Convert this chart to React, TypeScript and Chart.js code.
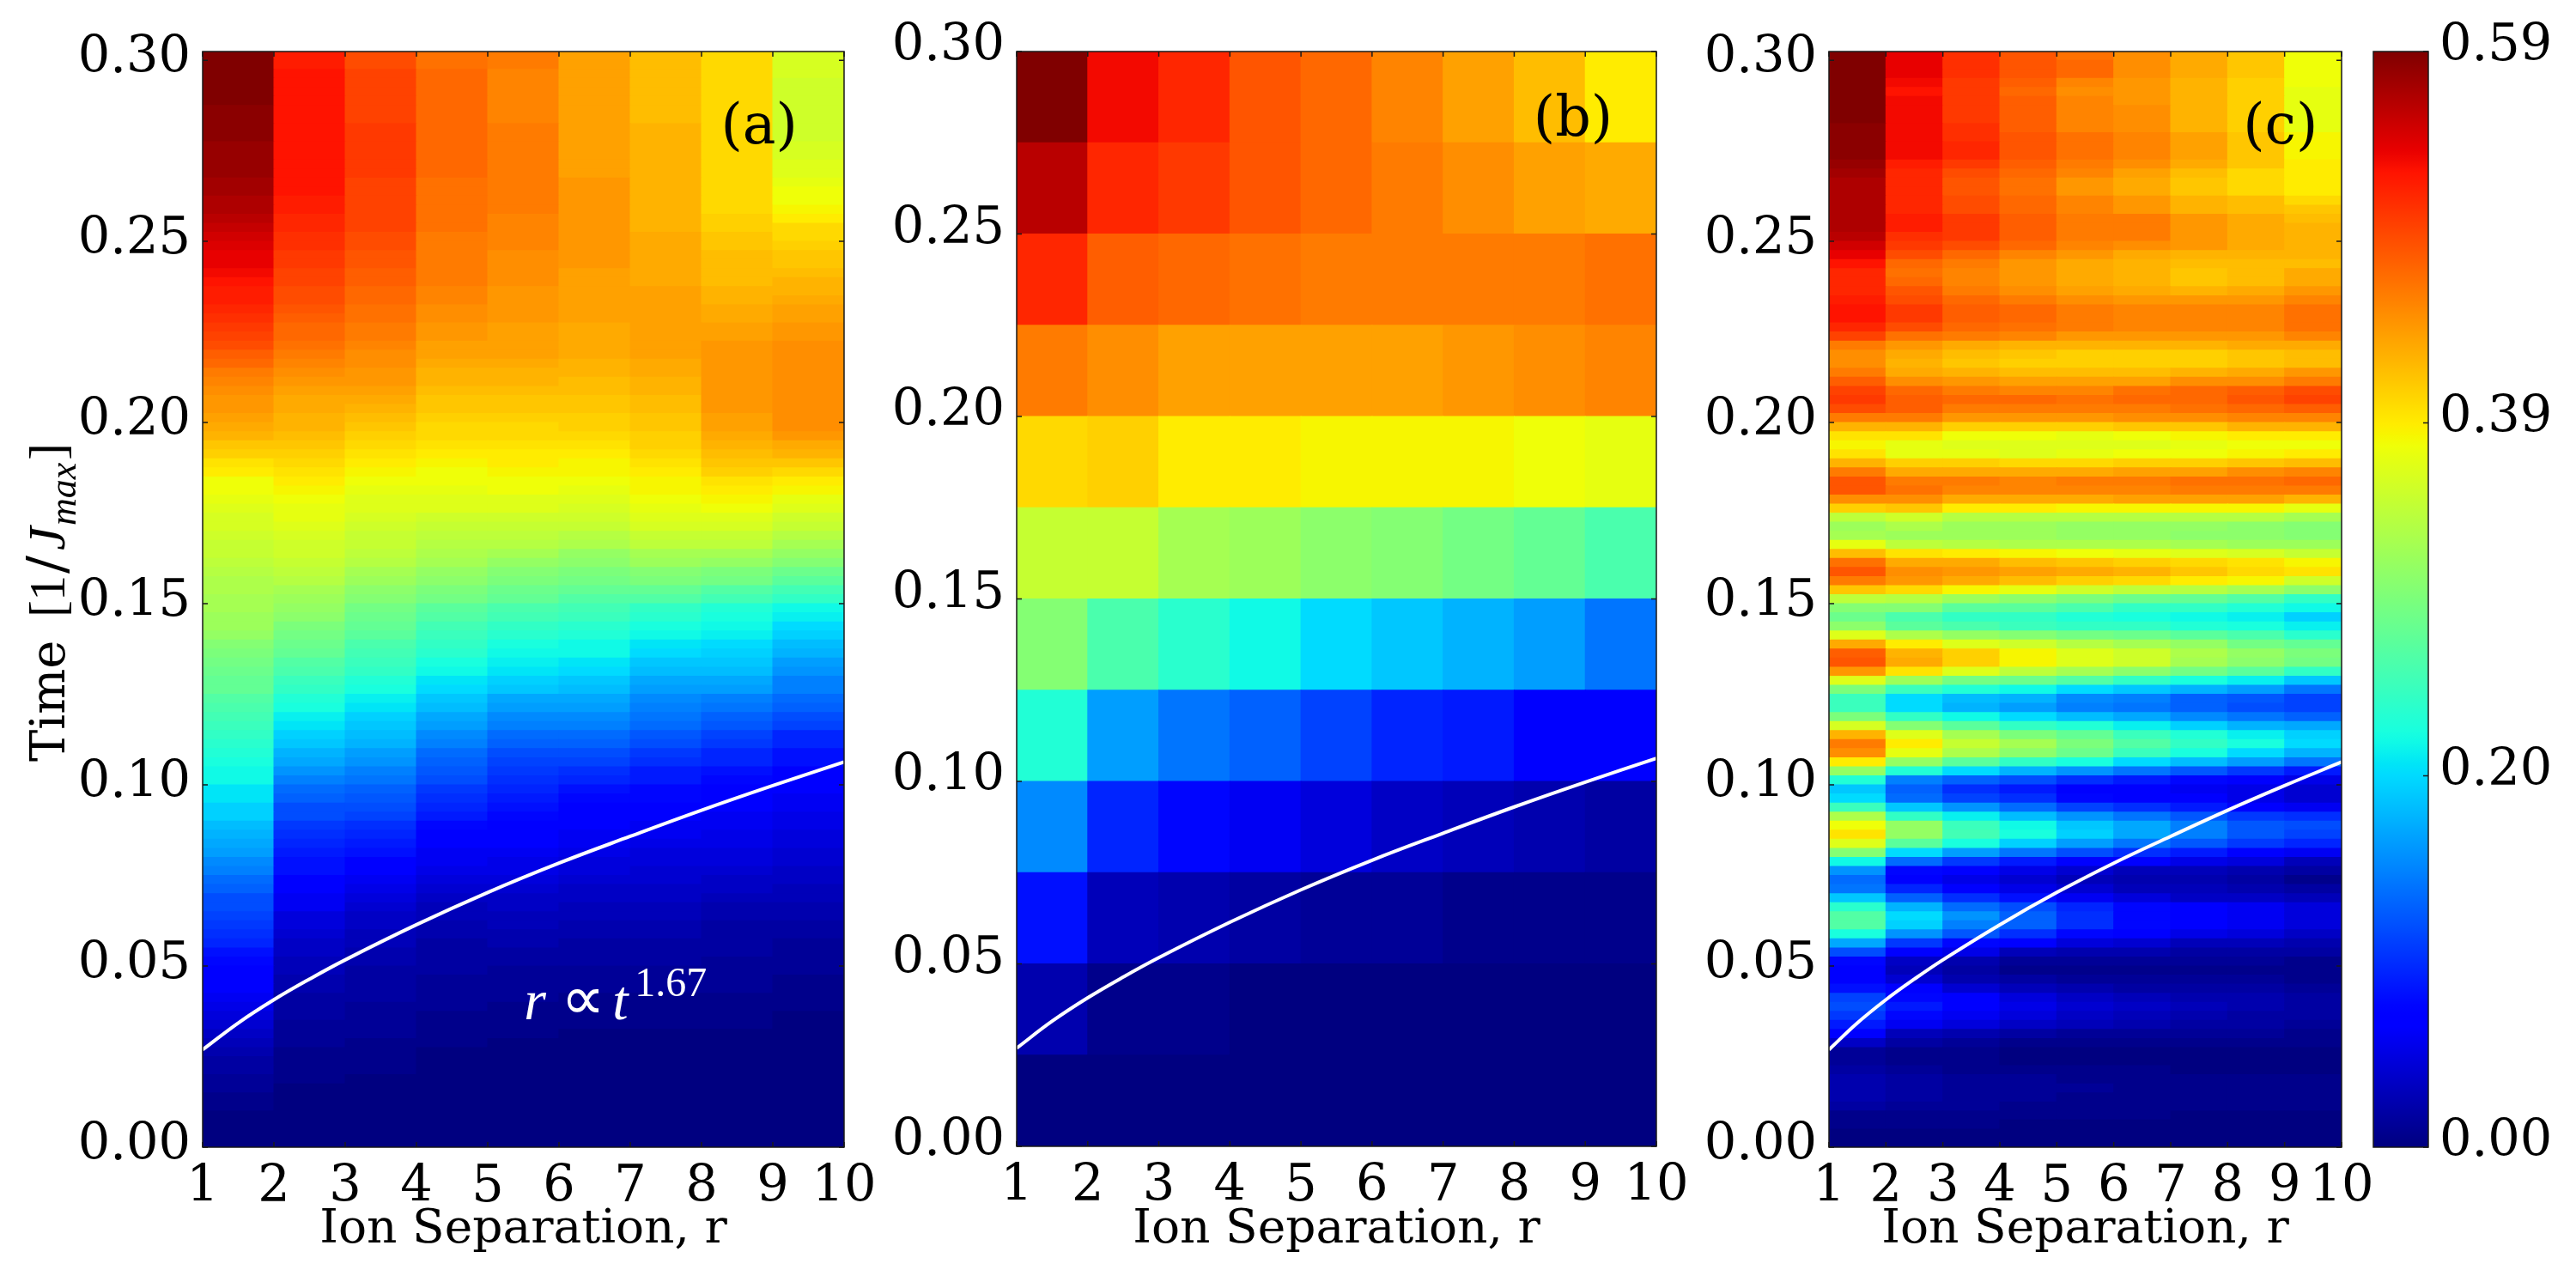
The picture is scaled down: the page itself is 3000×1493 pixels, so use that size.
import { useEffect, useRef } from 'react'
import { Chart, registerables } from 'chart.js'

Chart.register(...registerables)

// cell values are in percent of the colour scale (0.59 = 100)
const colorbarMax = 0.59
const colorbarTicks = [0, 0.2, 0.39, 0.59]
const rTicks = [1, 2, 3, 4, 5, 6, 7, 8, 9, 10]
const timeTicks = [0, 0.05, 0.1, 0.15, 0.2, 0.25, 0.3]
const rCentres = [1.5, 2.5, 3.5, 4.5, 5.5, 6.5, 7.5, 8.5, 9.5]

// white guide curve
const curveR = [1, 1.5, 2, 2.5, 3, 4, 5, 6, 7, 8, 9, 10]
const curveT = [0.0269, 0.0343, 0.0407, 0.0464, 0.0517, 0.0614, 0.0703, 0.0784, 0.0858, 0.093, 0.0998, 0.1063]

// panel (a): one list per column r=1..9, rows from the top every 0.0025
const panelAColumns = [
  [100,100,100,100,100,100,99,99,99,99,98,98,98,98,97,97,96,96,95,94,93,92,91,91,90,89,88,88,87,86,85,84,83,81,80,78,77,76,75,75,74,73,72,70,69,67,66,64,64,63,62,61,61,60,59,59,58,57,56,56,55,55,54,54,53,51,50,49,48,47,47,45,44,43,42,41,40,39,38,37,37,35,35,33,33,31,30,29,28,26,25,23,22,20,20,19,18,17,16,14,13,12,11,11,10,9,8,7,6,5,4,3,3,2,2,1,1,0,0,0,0],
  [88,88,89,89,89,89,89,89,89,89,89,89,89,89,89,89,88,88,87,87,86,86,85,85,84,84,83,83,82,81,80,80,79,78,77,76,75,74,73,73,72,72,71,70,69,68,67,66,65,64,63,63,62,61,60,60,59,58,57,55,54,53,52,50,49,48,47,45,44,42,41,39,38,36,35,33,32,30,29,27,25,23,22,20,20,18,17,16,15,14,14,12,12,10,10,8,8,7,6,6,5,5,4,4,3,3,3,2,2,2,1,1,1,1,0,0,0,0,0,0,0],
  [83,83,84,84,84,84,84,84,85,85,85,85,85,85,84,84,84,84,84,84,83,83,82,82,81,81,80,80,79,79,78,78,77,76,76,75,75,74,73,72,71,70,69,68,67,66,65,64,63,62,62,61,60,59,59,58,57,55,54,52,51,49,48,47,46,44,43,42,41,39,38,36,35,33,32,31,30,28,27,25,24,22,21,20,19,17,16,15,14,12,11,10,9,8,7,6,6,5,5,4,4,3,3,3,3,2,2,2,2,1,1,1,1,0,0,0,0,0,0,0,0],
  [79,79,80,80,80,80,80,80,80,80,80,80,80,80,79,79,79,79,79,79,78,78,78,78,78,78,77,77,76,76,75,75,74,74,73,72,72,71,70,70,69,68,68,67,66,65,64,64,63,62,62,60,59,58,57,56,55,53,52,50,49,46,45,43,42,41,40,38,37,35,34,32,31,29,28,26,25,23,22,21,20,18,17,16,15,13,12,11,10,10,9,8,7,6,5,5,4,4,3,3,3,3,2,2,2,2,1,1,1,1,0,0,0,0,0,0,0,0,0,0,0],
  [78,78,77,77,77,77,77,77,78,78,78,78,78,78,78,78,78,78,77,77,77,77,76,76,76,76,75,75,75,75,74,74,74,74,73,72,72,71,70,70,69,68,68,67,66,66,65,64,64,62,62,60,59,58,57,55,53,51,50,48,47,44,43,41,40,38,37,36,35,33,32,29,28,26,25,23,22,20,19,18,17,16,15,14,13,12,12,11,10,9,9,8,7,6,6,5,5,4,4,3,3,2,2,2,2,1,1,1,1,0,0,0,0,0,0,0,0,0,0,0,0],
  [74,74,74,74,74,74,74,74,74,74,74,74,74,74,75,75,75,75,75,75,75,75,75,75,74,74,74,74,74,74,73,73,73,73,72,72,71,71,70,70,69,69,68,67,66,65,65,64,63,62,61,60,59,57,56,53,52,50,49,47,45,43,42,40,39,37,37,35,34,32,31,29,28,26,25,23,22,20,19,17,16,14,13,12,11,11,10,10,9,8,8,7,6,6,5,5,4,4,3,3,3,2,2,2,1,1,1,1,0,0,0,0,0,0,0,0,0,0,0,0,0],
  [71,71,71,71,71,71,71,71,72,72,72,72,72,72,72,72,72,72,72,72,73,73,73,73,73,73,74,74,74,74,74,74,74,74,73,73,72,72,71,71,70,70,69,69,68,67,66,65,65,64,63,62,61,59,58,55,54,51,50,47,45,41,40,38,37,35,34,32,31,29,28,26,25,24,23,21,20,18,17,15,15,13,13,12,11,10,10,9,8,8,7,7,6,6,5,5,4,4,3,3,3,2,2,2,1,1,1,1,0,0,0,0,0,0,0,0,0,0,0,0,0],
  [68,68,68,68,68,68,68,68,68,68,68,68,68,68,68,68,68,68,69,69,70,70,71,71,71,71,72,72,73,73,74,74,75,75,75,75,75,75,75,75,74,74,73,72,71,70,69,67,66,65,64,62,61,59,58,55,53,50,49,45,43,39,38,37,36,34,33,32,31,29,28,25,24,22,21,19,18,16,16,14,13,12,11,11,10,10,9,9,8,8,7,6,6,5,4,4,3,3,3,3,2,2,2,2,1,1,1,1,0,0,0,0,0,0,0,0,0,0,0,0,0],
  [61,61,61,60,60,60,60,60,60,60,61,61,62,62,63,64,64,65,66,68,68,69,70,70,71,72,72,73,74,74,75,75,76,76,76,76,76,76,76,76,76,76,75,73,72,70,68,66,65,63,62,60,59,57,55,53,51,48,46,43,41,37,36,34,33,31,30,28,27,25,25,23,22,20,19,16,16,14,14,12,12,11,10,10,9,9,8,8,7,7,6,6,5,5,4,4,3,3,2,2,2,2,1,1,1,1,0,0,0,0,0,0,0,0,0,0,0,0,0,0,0],
]

// panel (b): rows from the top, every 0.025
const panelBRows = [
  [100,90,87,82,80,77,74,71,66],
  [95,87,85,82,80,78,76,74,73],
  [87,81,80,79,78,78,78,78,79],
  [78,76,74,74,74,74,75,76,77],
  [68,69,66,66,65,65,65,64,63],
  [59,59,55,54,52,51,49,47,44],
  [51,44,40,37,34,32,30,28,24],
  [39,28,24,22,19,16,15,12,11],
  [26,16,13,10,8,6,5,4,3],
  [14,5,4,3,2,2,1,1,1],
  [4,1,1,0,0,0,0,0,0],
  [0,0,0,0,0,0,0,0,0],
]

// panel (c): rows from the top, every 0.0025
const panelCRows = [
  [100,91,86,82,79,76,73,70,64],[100,91,86,82,80,76,73,70,64],[100,91,86,82,80,76,73,70,64],[100,90,85,81,77,75,72,69,64],
  [100,89,85,80,76,75,72,69,63],[100,90,85,81,77,75,72,69,63],[100,90,85,81,77,76,72,69,63],[100,90,85,81,77,76,72,69,63],
  [99,90,86,81,77,76,72,69,63],[99,90,86,82,79,77,74,70,65],[99,90,87,82,79,77,74,70,65],[99,90,87,82,79,77,74,70,65],
  [98,88,85,81,78,76,73,70,66],[97,87,83,80,77,74,71,68,66],[96,87,82,79,75,73,70,68,66],[96,87,82,79,75,73,70,68,66],
  [96,87,83,80,77,75,72,71,68],[96,87,83,80,77,75,72,71,70],[96,88,85,81,78,78,75,73,71],[96,88,85,81,78,78,75,73,72],
  [95,86,85,81,78,78,75,73,72],[93,85,83,80,77,76,75,73,72],[91,83,80,77,75,73,72,72,72],[89,80,78,75,73,72,71,71,71],
  [87,79,77,75,73,72,70,71,73],[87,80,77,75,73,72,70,71,73],[87,82,78,76,74,73,72,73,75],[88,83,80,78,76,75,75,75,77],
  [89,85,81,80,78,77,77,77,79],[89,85,81,80,78,77,77,77,79],[87,83,80,79,78,77,77,77,79],[84,79,78,77,75,75,75,75,77],
  [78,75,73,72,72,72,72,73,73],[76,73,71,70,69,69,69,70,71],[76,72,70,69,69,69,69,70,71],[78,73,72,71,71,71,72,73,75],
  [81,76,75,74,74,74,76,76,78],[84,80,78,77,77,79,80,81,83],[85,81,80,80,79,80,80,82,84],[83,81,78,78,78,78,79,80,81],
  [78,78,75,75,75,76,76,77,77],[72,72,69,69,69,70,70,72,72],[67,67,64,64,63,64,65,66,66],[65,63,62,62,62,62,63,64,64],
  [67,63,63,62,63,64,64,65,66],[72,69,69,68,68,69,69,70,71],[78,73,73,73,73,74,74,76,77],[82,78,78,77,78,78,79,79,80],
  [82,79,77,77,77,77,78,78,78],[76,76,73,73,73,74,74,74,72],[69,70,66,66,65,65,65,65,63],[58,60,57,57,57,57,57,57,55],
  [54,56,54,54,53,53,53,52,51],[55,54,54,54,53,53,52,52,51],[63,58,57,56,56,56,55,54,54],[71,67,66,65,64,63,62,61,59],
  [79,73,73,71,70,69,68,67,65],[82,76,75,74,73,72,70,68,67],[78,75,73,71,69,68,66,65,60],[70,68,65,63,60,58,57,55,52],
  [58,57,54,52,50,48,47,45,41],[51,51,46,46,44,41,41,39,37],[48,44,41,41,39,38,37,36,33],[52,46,44,42,41,41,39,38,36],
  [62,56,53,51,49,48,46,44,40],[73,66,62,60,57,55,53,49,47],[81,72,69,65,62,60,56,53,50],[82,73,69,65,62,60,55,52,49],
  [75,67,62,58,55,52,49,46,41],[62,54,49,48,45,41,38,36,32],[50,42,39,37,34,32,30,28,24],[42,34,31,30,26,25,22,21,19],
  [42,34,30,28,25,24,22,20,19],[50,41,37,34,31,29,26,24,22],[61,51,46,41,39,36,33,30,29],[72,62,55,50,47,42,39,36,33],
  [78,66,59,55,50,45,41,38,34],[76,63,56,52,48,42,38,34,30],[66,53,46,41,38,34,31,28,24],[53,39,34,30,27,24,21,18,15],
  [39,25,22,20,17,15,13,11,9],[32,22,17,15,12,11,10,9,7],[34,23,19,17,13,11,11,9,7],[42,32,27,23,19,17,15,12,10],
  [56,41,36,31,27,24,21,18,17],[64,53,42,37,32,29,25,21,20],[67,53,43,38,33,29,25,21,19],[62,46,38,33,28,24,21,18,16],
  [51,34,28,24,20,17,15,12,10],[37,23,18,15,12,11,9,8,5],[27,13,12,9,7,5,5,4,3],[23,11,9,7,5,4,4,3,1],
  [24,16,11,9,7,5,5,4,3],[32,22,17,14,10,8,6,6,5],[40,30,23,20,16,13,11,10,8],[45,34,27,22,17,13,11,10,8],
  [45,33,25,22,17,13,11,10,8],[38,27,21,17,13,11,9,8,6],[29,18,13,11,8,7,5,5,4],[20,11,9,5,4,4,3,3,3],
  [13,6,4,2,2,2,2,2,1],[11,5,3,1,1,1,1,1,1],[12,7,4,3,2,2,2,2,1],[14,11,7,5,4,3,3,3,2],
  [19,13,11,8,6,5,4,4,3],[20,15,12,9,7,6,5,4,3],[18,13,10,8,6,5,4,3,3],[15,10,8,6,5,4,3,3,2],
  [11,5,4,3,2,2,2,2,1],[6,3,2,1,1,1,1,1,1],[2,1,1,0,0,0,0,0,0],[2,1,1,0,0,0,0,0,0],
  [3,2,1,1,1,1,0,0,0],[4,3,2,2,1,1,1,1,1],[4,3,2,2,2,1,1,1,1],[4,3,2,2,1,1,1,1,1],
  [3,2,2,1,1,1,1,1,1],[1,1,1,1,1,1,0,0,0],[1,1,1,0,0,0,0,0,0],[0,0,0,0,0,0,0,0,0],
  [0,0,0,0,0,0,0,0,0],
]

const serif = '"DejaVu Serif"'
const mathSerif = '"Liberation Serif"'

const jetR = [[0, 0], [0.35, 0], [0.66, 1], [0.89, 1], [1, 0.5]]
const jetG = [[0, 0], [0.125, 0], [0.375, 1], [0.64, 1], [0.91, 0], [1, 0]]
const jetB = [[0, 0.5], [0.11, 1], [0.34, 1], [0.65, 0], [1, 0]]

function lerp(pts: number[][], f: number) {
  for (let i = 1; i < pts.length; i++) {
    if (f <= pts[i][0]) {
      const [x0, y0] = pts[i - 1]
      const [x1, y1] = pts[i]
      return y0 + ((y1 - y0) * (f - x0)) / (x1 - x0)
    }
  }
  return pts[pts.length - 1][1]
}

function jet(f: number) {
  const c = [jetR, jetG, jetB].map((p) => Math.round(lerp(p, f) * 255))
  return `rgb(${c[0]},${c[1]},${c[2]})`
}

const transpose = (cols: number[][]) => cols[0].map((_, k) => cols.map((c) => c[k] ?? 0))

// ticks point inward, frame sits on top of the cells
const framePlugin = {
  id: 'frame',
  afterDraw(chart: any) {
    const { ctx, chartArea: a, scales } = chart
    const len = 6
    ctx.save()
    ctx.strokeStyle = '#1a1a1a'
    ctx.lineWidth = 1.5
    ctx.strokeRect(a.left, a.top, a.right - a.left, a.bottom - a.top)
    ctx.beginPath()
    scales.y.ticks.forEach((t: any) => {
      const y = scales.y.getPixelForValue(t.value)
      if (scales.x.options.display) {
        ctx.moveTo(a.left, y)
        ctx.lineTo(a.left + len, y)
      }
      ctx.moveTo(a.right, y)
      ctx.lineTo(a.right - len, y)
    })
    if (scales.x.options.display) {
      scales.x.ticks.forEach((t: any) => {
        const x = scales.x.getPixelForValue(t.value)
        ctx.moveTo(x, a.top)
        ctx.lineTo(x, a.top + len)
        ctx.moveTo(x, a.bottom)
        ctx.lineTo(x, a.bottom - len)
      })
    }
    ctx.stroke()
    ctx.restore()
  },
}

function drawTag(chart: any, tag: string) {
  const { ctx, scales } = chart
  ctx.save()
  ctx.fillStyle = '#000'
  ctx.font = `65px ${serif}`
  ctx.textBaseline = 'middle'
  ctx.fillText(tag, scales.x.getPixelForValue(8.27), scales.y.getPixelForValue(0.281))
  ctx.restore()
}

function drawScaling(chart: any) {
  const { ctx, scales } = chart
  const x = scales.x.getPixelForValue(5.51)
  const y = scales.y.getPixelForValue(0.0353)
  ctx.save()
  ctx.fillStyle = '#fff'
  ctx.font = `italic 66px ${mathSerif}`
  ctx.fillText('r', x, y)
  ctx.font = `72px "DejaVu Sans"`
  ctx.fillText('∝', x + 43, y)
  ctx.font = `italic 66px ${mathSerif}`
  ctx.fillText('t', x + 103, y)
  ctx.font = `48px ${mathSerif}`
  ctx.fillText('1.67', x + 129, y - 27)
  ctx.restore()
}

function drawTimeTitle(chart: any) {
  const { ctx } = chart
  ctx.save()
  ctx.translate(75, 887)
  ctx.rotate(-Math.PI / 2)
  ctx.fillStyle = '#000'
  ctx.font = `56px ${serif}`
  ctx.fillText('Time', 0, 0)
  ctx.font = `60px ${mathSerif}`
  ctx.fillText('[', 168, 0)
  ctx.fillText('1', 187, 0)
  ctx.font = `62px ${serif}`
  ctx.fillText('/', 219, 0)
  ctx.font = `italic 62px ${mathSerif}`
  ctx.fillText('J', 246, 0)
  ctx.font = `italic 44px ${mathSerif}`
  ctx.fillText('max', 275, 13)
  ctx.font = `60px ${mathSerif}`
  ctx.fillText(']', 351, 0)
  ctx.restore()
}

function fixedSize(size: number, key: 'width' | 'height') {
  return (scale: any) => {
    scale[key] = size
  }
}

// room for the value labels: Chart.js clips them to the scale box
const tickBox = 200

type PanelProps = {
  rows: number[][]
  top: number
  step: number
  yMax: number
  left: number
  right: number
  bottom: number
  labelOffset: number
  tag: string
  showTitle?: boolean
  showScaling?: boolean
}

function HeatPanel(p: PanelProps) {
  const ref = useRef<HTMLCanvasElement | null>(null)

  useEffect(() => {
    if (!ref.current) return
    const cells: any[] = []
    const colors: string[] = []
    p.rows.forEach((row, i) => {
      const hi = p.top - i * p.step
      row.forEach((v, c) => {
        cells.push({ x: rCentres[c], y: [hi - p.step, hi] })
        colors.push(jet(v / 100))
      })
    })

    const notes = {
      id: 'notes',
      afterDraw(chart: any) {
        drawTag(chart, p.tag)
        if (p.showTitle) drawTimeTitle(chart)
        if (p.showScaling) drawScaling(chart)
      },
    }

    const chart = new Chart(ref.current, {
      type: 'bar',
      data: {
        datasets: [
          {
            type: 'line',
            data: curveR.map((r, i) => ({ x: r, y: curveT[i] })),
            borderColor: '#ffffff',
            borderWidth: 4,
            pointRadius: 0,
            tension: 0.4,
            order: 0,
          },
          {
            type: 'bar',
            data: cells,
            backgroundColor: colors,
            borderWidth: 0,
            barPercentage: 1,
            categoryPercentage: 1,
            inflateAmount: 0.5,
            order: 1,
          },
        ] as any,
      },
      options: {
        responsive: false,
        devicePixelRatio: 1,
        animation: false,
        layout: { padding: { left: p.left - tickBox, right: 3000 - p.right, top: 60, bottom: 0 } },
        plugins: { legend: { display: false }, tooltip: { enabled: false } },
        scales: {
          x: {
            type: 'linear',
            offset: false,
            min: 1,
            max: 10,
            afterBuildTicks: (s: any) => {
              s.ticks = rTicks.map((value) => ({ value }))
            },
            afterFit: fixedSize(1493 - p.bottom, 'height'),
            grid: { display: false },
            border: { display: false },
            ticks: {
              autoSkip: false,
              maxRotation: 0,
              padding: 4,
              color: '#000',
              font: { family: serif, size: 59 },
              callback: (v: any) => String(v),
            },
            title: {
              display: true,
              text: 'Ion Separation, r',
              color: '#000',
              font: { family: serif, size: 55 },
              padding: { top: 0, bottom: 27 },
            },
          },
          y: {
            type: 'linear',
            min: 0,
            max: p.yMax,
            afterBuildTicks: (s: any) => {
              s.ticks = timeTicks.map((value) => ({ value }))
            },
            afterFit: fixedSize(tickBox, 'width'),
            grid: { display: false },
            border: { display: false },
            ticks: {
              autoSkip: false,
              padding: 6,
              labelOffset: p.labelOffset,
              color: '#000',
              font: { family: serif, size: 59 },
              callback: (v: any) => Number(v).toFixed(2),
            },
          },
        },
      } as any,
      plugins: [framePlugin, notes],
    })
    return () => chart.destroy()
  }, [])

  return <canvas ref={ref} width={3000} height={1493} style={{ position: 'absolute', left: 0, top: 0 }} />
}

function Colorbar() {
  const ref = useRef<HTMLCanvasElement | null>(null)

  useEffect(() => {
    if (!ref.current) return
    const chart = new Chart(ref.current, {
      type: 'bar',
      data: {
        datasets: [
          {
            data: [{ x: 0.5, y: [0, colorbarMax] }],
            borderWidth: 0,
            barPercentage: 1,
            categoryPercentage: 1,
            backgroundColor: (c: any) => {
              const a = c.chart.chartArea
              if (!a) return '#000080'
              const g = c.chart.ctx.createLinearGradient(0, a.bottom, 0, a.top)
              for (let i = 0; i <= 100; i++) g.addColorStop(i / 100, jet(i / 100))
              return g
            },
          },
        ] as any,
      },
      options: {
        responsive: false,
        devicePixelRatio: 1,
        animation: false,
        layout: { padding: { left: 2764, right: 0, top: 60, bottom: 1493 - 1336 } },
        plugins: { legend: { display: false }, tooltip: { enabled: false } },
        scales: {
          x: { type: 'linear', offset: false, min: 0, max: 1, display: false },
          y: {
            type: 'linear',
            position: 'right',
            min: 0,
            max: colorbarMax,
            afterBuildTicks: (s: any) => {
              s.ticks = colorbarTicks.map((value) => ({ value }))
            },
            afterFit: fixedSize(3000 - 2828, 'width'),
            grid: { display: false },
            border: { display: false },
            ticks: {
              autoSkip: false,
              padding: 5,
              labelOffset: -5,
              color: '#000',
              font: { family: serif, size: 59 },
              callback: (v: any) => Number(v).toFixed(2),
            },
          },
        },
      } as any,
      plugins: [framePlugin],
    })
    return () => chart.destroy()
  }, [])

  return <canvas ref={ref} width={3000} height={1493} style={{ position: 'absolute', left: 0, top: 0 }} />
}

export default function App() {
  return (
    <div style={{ position: 'absolute', left: 0, top: 0, width: 3000, height: 1493, background: '#fff', overflow: 'hidden' }}>
      <HeatPanel rows={transpose(panelAColumns)} top={0.3025} step={0.0025} yMax={0.3024} left={236} right={983} bottom={1336} labelOffset={-1} tag="(a)" showTitle showScaling />
      <HeatPanel rows={panelBRows} top={0.3} step={0.025} yMax={0.3} left={1184} right={1929} bottom={1335} labelOffset={-5} tag="(b)" />
      <HeatPanel rows={panelCRows} top={0.3025} step={0.0025} yMax={0.3024} left={2130} right={2727} bottom={1336} labelOffset={-1} tag="(c)" />
      <Colorbar />
    </div>
  )
}
